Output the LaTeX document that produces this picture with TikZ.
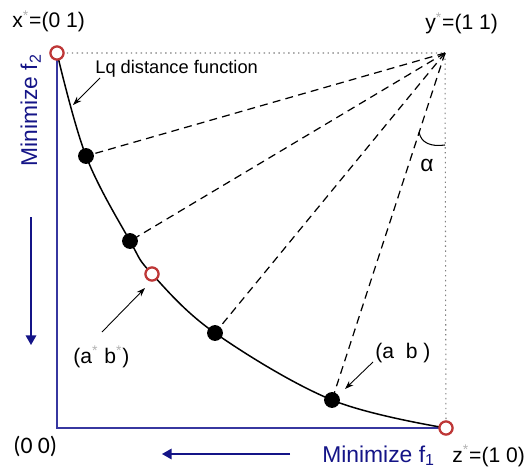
\documentclass[tikz,border=0pt]{standalone}
\usepackage{fontspec}
\setmainfont{Liberation Sans}
\newfontfamily\calfont{Carlito}
\usepackage{tikz}
\usetikzlibrary{arrows.meta, positioning}
\definecolor{navyblue}{RGB}{20, 20, 135}
\definecolor{axisblue}{RGB}{55, 55, 160}
\definecolor{ringred}{RGB}{190, 55, 55}

\begin{document}
\begin{tikzpicture}[
    x=0.02cm, y=-0.02cm,
    dot/.style={circle, fill=black, inner sep=0pt, minimum size=9pt},
    ring/.style={circle, draw=ringred, line width=1.3pt, fill=white, inner sep=0pt, minimum size=7.5pt},
    lbl/.style={font=\fontsize{12}{14}\selectfont, inner sep=0pt, anchor=base west},
    bluetext/.style={font=\fontsize{13}{15}\selectfont, text=navyblue, inner sep=0pt, anchor=base west},
    axis/.style={axisblue, line width=0.9pt},
    ray/.style={dash pattern=on 4.5pt off 3pt, line width=0.7pt},
    guide/.style={gray, dash pattern=on 0.8pt off 2pt, line width=0.6pt},
    pointer/.style={-{Stealth[length=5pt, width=3.5pt]}, line width=0.5pt},
    dirarrow/.style={-{Triangle[length=5.5pt, width=6pt]}, navyblue, line width=0.9pt}
]
\useasboundingbox (0,0) rectangle (525,470);

% corner points and points on the front
\coordinate (xs) at (57,53);
\coordinate (ys) at (445,53);
\coordinate (zs) at (446,428);
\coordinate (o) at (57,428);
\coordinate (p1) at (86,156);
\coordinate (p2) at (130,241);
\coordinate (ab) at (152,274);
\coordinate (p3) at (215,333);
\coordinate (p4) at (332,400);

\draw[axis] (xs) -- (o) -- (zs);
\draw[guide] (xs) -- (ys) -- (zs);
\draw[line width=0.85pt] plot[smooth, tension=0.6] coordinates {(xs) (p1) (p2) (ab) (p3) (p4) (zs)};
\foreach \p in {p1, p2, p3, p4}
    \draw[ray] (ys) -- (\p);
\draw[line width=0.6pt] (419,132) .. controls (421,143) and (431,147) .. (445,145);

\node[ring] (xr) at (xs) {};
\node[ring] (zr) at (zs) {};
\node[ring] (abr) at (ab) {};
\foreach \p in {p1, p2, p3, p4}
    \node[dot] (d\p) at (\p) {};

% labels
\node[lbl] (xlab) at (12,28) {x\textsuperscript{\color{gray!60}*}=(0 1)};
\node[lbl] (ylab) at (425,30) {y\textsuperscript{\color{gray!60}*}=(1 1)};
\node[lbl] (zlab) at (452,462) {z\textsuperscript{\color{gray!60}*}=(1 0)};
\node[lbl, font=\calfont\fontsize{13.5}{16}\selectfont] (olab) at (13,453) {(0 0)};
\node[lbl] (ablab) at (73,363) {(a\textsuperscript{\color{gray!60}*} b\textsuperscript{\color{gray!60}*})};
\node[lbl] (pqlab) at (375,358) {(a~~b~)};
\node[lbl, font=\fontsize{10.4}{12}\selectfont] (lq) at (95,73) {Lq distance function};
\node[bluetext] (f1) at (322,462) {Minimize f\textsubscript{1}};
\node[bluetext, rotate=90] (f2) at (37,167) {Minimize f\textsubscript{2}};
\node[font=\fontsize{13}{15}\selectfont] (alpha) at (427,165) {α};

% pointers
\coordinate (lqtail) at (100,78);
\coordinate (lqtip) at (73,105);
\coordinate (abtail) at (102,332);
\coordinate (abtip) at (145,288);
\coordinate (pqtail) at (373,362);
\coordinate (pqtip) at (345,389);
\draw[pointer] (lqtail) -- (lqtip);
\draw[pointer] (abtail) -- (abtip);
\draw[pointer] (pqtail) -- (pqtip);

% directions of minimisation
\coordinate (downtop) at (31,217);
\coordinate (downtip) at (31,345);
\coordinate (lefttail) at (290,454);
\coordinate (lefttip) at (162,454);
\draw[dirarrow] (downtop) -- (downtip);
\draw[dirarrow] (lefttail) -- (lefttip);
\end{tikzpicture}
\end{document}
